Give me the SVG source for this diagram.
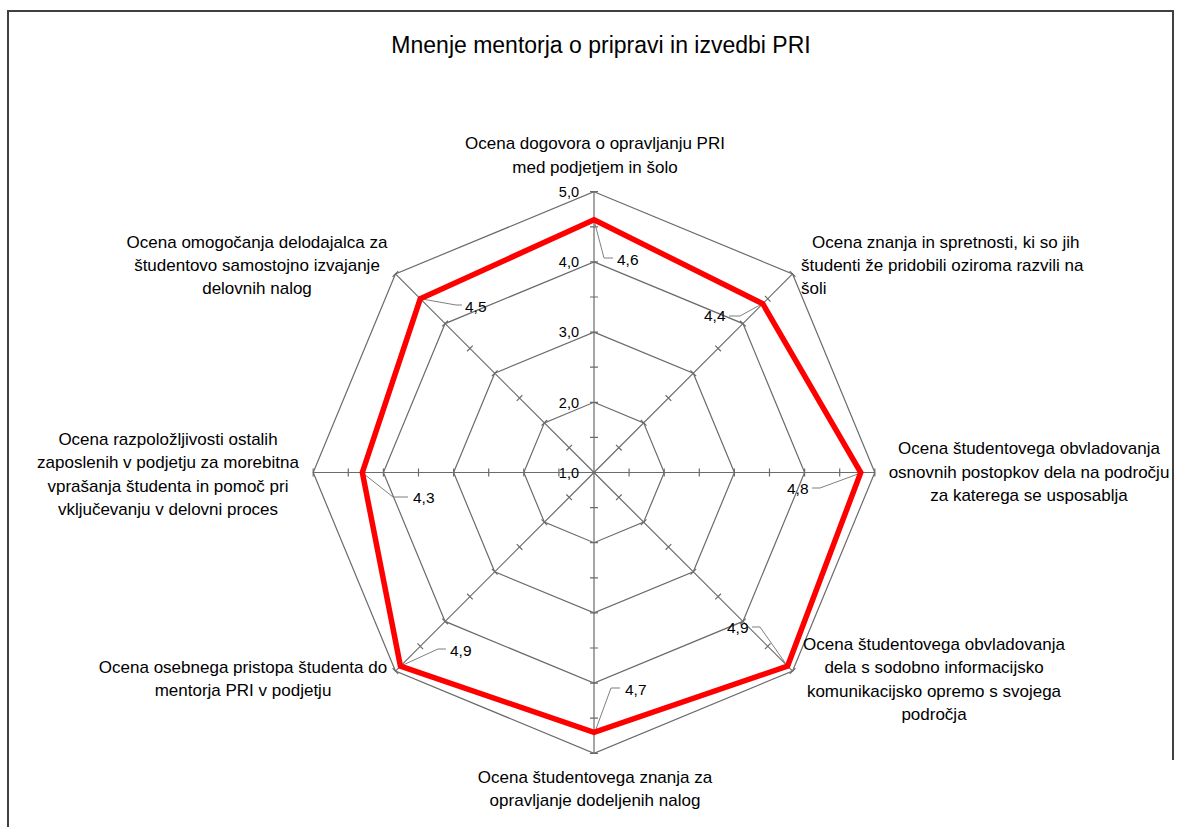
<svg xmlns="http://www.w3.org/2000/svg" xmlns:xlink="http://www.w3.org/1999/xlink" width="1181" height="827" viewBox="0 0 1181 827">
<style>
.bg{fill:#ffffff}
.frame{fill:none;stroke:#404040;stroke-width:2}
.ring{fill:none;stroke:#6b6b6b;stroke-width:1.2}
.axis{fill:none;stroke:#6b6b6b;stroke-width:1.2}
.series{fill:none;stroke:#ff0000;stroke-width:5.5;stroke-linejoin:miter}
.leader{fill:none;stroke:#7f7f7f;stroke-width:1}
.title{font-family:"Liberation Sans",Arial,sans-serif;font-size:23px;fill:#000;text-anchor:middle}
.cat{font-family:"Liberation Sans",Arial,sans-serif;font-size:17px;fill:#000}
.mid{text-anchor:middle}
.tick{font-family:"Liberation Sans",Arial,sans-serif;font-size:14.5px;fill:#000;text-anchor:end}
.val{font-family:"Liberation Sans",Arial,sans-serif;font-size:15.5px;fill:#000}
</style>
<defs>
<path id="axisShape" class="axis" d="M0 0V-280.8 M-4 -35.1H4 M-4 -70.2H4 M-4 -105.3H4 M-4 -140.4H4 M-4 -175.5H4 M-4 -210.6H4 M-4 -245.7H4 M-4 -280.8H4"/>
</defs>
<rect class="bg" x="0" y="0" width="1181" height="827"/>
<path class="frame" d="M8 827V11H1173V760"/>
<text class="title" x="601" y="53">Mnenje mentorja o pripravi in izvedbi PRI</text>

<g id="grid">
<polygon class="ring" points="594,402.3 643.64,422.86 664.2,472.5 643.64,522.14 594,542.7 544.36,522.14 523.8,472.5 544.36,422.86"/>
<polygon class="ring" points="594,332.1 693.28,373.22 734.4,472.5 693.28,571.78 594,612.9 494.72,571.78 453.6,472.5 494.72,373.22"/>
<polygon class="ring" points="594,261.9 742.92,323.58 804.6,472.5 742.92,621.42 594,683.1 445.08,621.42 383.4,472.5 445.08,323.58"/>
<polygon class="ring" points="594,191.7 792.56,273.94 874.8,472.5 792.56,671.06 594,753.3 395.44,671.06 313.2,472.5 395.44,273.94"/>
<use xlink:href="#axisShape" transform="translate(594 472.5)"/>
<use xlink:href="#axisShape" transform="translate(594 472.5) rotate(45)"/>
<use xlink:href="#axisShape" transform="translate(594 472.5) rotate(90)"/>
<use xlink:href="#axisShape" transform="translate(594 472.5) rotate(135)"/>
<use xlink:href="#axisShape" transform="translate(594 472.5) rotate(180)"/>
<use xlink:href="#axisShape" transform="translate(594 472.5) rotate(225)"/>
<use xlink:href="#axisShape" transform="translate(594 472.5) rotate(270)"/>
<use xlink:href="#axisShape" transform="translate(594 472.5) rotate(315)"/>
</g>

<g id="scale-labels">
<text class="tick" x="579" y="197">5,0</text>
<text class="tick" x="579" y="267">4,0</text>
<text class="tick" x="579" y="337">3,0</text>
<text class="tick" x="579" y="407.5">2,0</text>
<text class="tick" x="579" y="478">1,0</text>
</g>

<g id="connectors">
<path class="leader" d="M594.5 222 L604 258 H613"/>
<path class="leader" d="M729 316 H740 L760 305"/>
<path class="leader" d="M812 488 H820 L858 474"/>
<path class="leader" d="M752 627 H760 L786 664"/>
<path class="leader" d="M620 688 H611 L596 729"/>
<path class="leader" d="M446 649 H438 L403 665"/>
<path class="leader" d="M408 497 H393 L364 474"/>
<path class="leader" d="M462 305 H456 L422 299"/>
</g>

<g id="series">
<polygon class="series" points="594,219.78 762.77,303.73 860.76,472.5 787.59,666.09 594,732.24 400.41,666.09 362.34,472.5 420.26,298.76"/>
</g>

<g id="value-labels">
<text class="val" x="617" y="265">4,6</text>
<text class="val" x="704" y="321">4,4</text>
<text class="val" x="787" y="494">4,8</text>
<text class="val" x="727" y="633">4,9</text>
<text class="val" x="625" y="695">4,7</text>
<text class="val" x="450" y="656">4,9</text>
<text class="val" x="413" y="503">4,3</text>
<text class="val" x="465" y="312">4,5</text>
</g>

<g id="node-top">
<text class="cat mid" x="595" y="149">Ocena dogovora o opravljanju PRI</text>
<text class="cat mid" x="595" y="173">med podjetjem in šolo</text>
</g>
<g id="node-top-right">
<text class="cat" x="812" y="248">Ocena znanja in spretnosti, ki so jih</text>
<text class="cat" x="801" y="271">študenti že pridobili oziroma razvili na</text>
<text class="cat" x="801" y="294">šoli</text>
</g>
<g id="node-right">
<text class="cat mid" x="1029" y="454">Ocena študentovega obvladovanja</text>
<text class="cat mid" x="1029" y="477.5">osnovnih postopkov dela na področju</text>
<text class="cat mid" x="1029" y="501">za katerega se usposablja</text>
</g>
<g id="node-bottom-right">
<text class="cat mid" x="934" y="650">Ocena študentovega obvladovanja</text>
<text class="cat mid" x="934" y="673">dela s sodobno informacijsko</text>
<text class="cat mid" x="934" y="696.5">komunikacijsko opremo s svojega</text>
<text class="cat mid" x="934" y="720">področja</text>
</g>
<g id="node-bottom">
<text class="cat mid" x="595" y="782.5">Ocena študentovega znanja za</text>
<text class="cat mid" x="595" y="806">opravljanje dodeljenih nalog</text>
</g>
<g id="node-bottom-left">
<text class="cat mid" x="243" y="673">Ocena osebnega pristopa študenta do</text>
<text class="cat mid" x="243" y="696">mentorja PRI v podjetju</text>
</g>
<g id="node-left">
<text class="cat mid" x="168" y="445">Ocena razpoložljivosti ostalih</text>
<text class="cat mid" x="168" y="468">zaposlenih v podjetju za morebitna</text>
<text class="cat mid" x="168" y="491.5">vprašanja študenta in pomoč pri</text>
<text class="cat mid" x="168" y="515">vključevanju v delovni proces</text>
</g>
<g id="node-top-left">
<text class="cat mid" x="257" y="248">Ocena omogočanja delodajalca za</text>
<text class="cat mid" x="257" y="271">študentovo samostojno izvajanje</text>
<text class="cat mid" x="257" y="294">delovnih nalog</text>
</g>
</svg>
